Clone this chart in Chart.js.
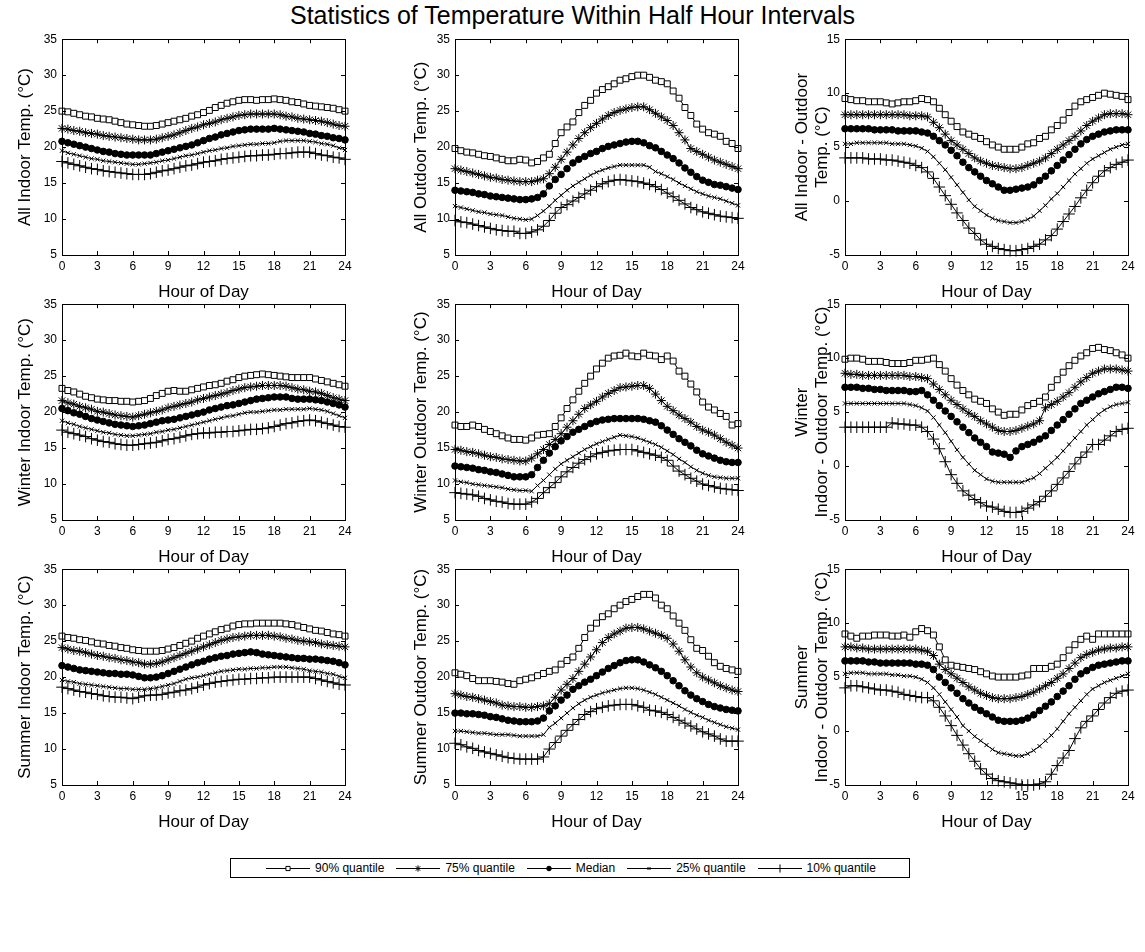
<!DOCTYPE html>
<html>
<head>
<meta charset="utf-8">
<script src="https://cdn.jsdelivr.net/npm/chart.js@4.4.1/dist/chart.umd.min.js"></script>
<style>
  html, body { margin: 0; padding: 0; background: #fff; }
  #fig { position: relative; width: 1145px; height: 952px; overflow: hidden; font-family: 'Liberation Sans', Arial, sans-serif; color: #000; }
  #title { position: absolute; left: 0; top: 1px; width: 1145px; text-align: center; font-size: 25px; }
  .panel { position: absolute; }
  #legend { position: absolute; left: 230px; top: 858px; width: 680px; height: 20px; border: 1px solid #000; box-sizing: border-box;
            display: flex; align-items: center; justify-content: center; font-size: 12px; }
  #legend .item { display: flex; align-items: center; margin: 0 5px; }
  #legend canvas { margin-right: 3px; }
</style>
</head>
<body>
<div id="fig">
  <div id="title">Statistics of Temperature Within Half Hour Intervals</div>
  <div id="legend"></div>
</div>

<script>
// ================= DATOS =================
const hours = [0,0.5,1,1.5,2,2.5,3,3.5,4,4.5,5,5.5,6,6.5,7,7.5,8,8.5,9,9.5,10,10.5,11,11.5,
               12,12.5,13,13.5,14,14.5,15,15.5,16,16.5,17,17.5,18,18.5,19,19.5,20,20.5,21,21.5,22,22.5,23,23.5,24];
const xTicks = [0, 3, 6, 9, 12, 15, 18, 21, 24];
const tempTicks = [5, 10, 15, 20, 25, 30, 35];
const diffTicks = [-5, 0, 5, 10, 15];
const seriesNames = ['90% quantile', '75% quantile', 'Median', '25% quantile', '10% quantile'];

// All - indoor
const allIndoor90  = [25.0,24.9,24.7,24.5,24.3,24.2, 24.0,23.9,23.8,23.6,23.4,23.2, 23.1,23.0,22.9,22.9,23.0,23.2, 23.4,23.6,23.8,24.0,24.3,24.5, 24.8,25.1,25.5,25.8,26.1,26.3, 26.5,26.6,26.6,26.5,26.6,26.6, 26.7,26.6,26.5,26.3,26.2,26.0, 25.8,25.7,25.6,25.5,25.4,25.2, 25.0];
const allIndoor75  = [22.6,22.5,22.3,22.2,22.0,21.9, 21.8,21.6,21.5,21.4,21.3,21.2, 21.1,21.0,21.0,21.0,21.1,21.3, 21.5,21.7,22.0,22.3,22.6,22.8, 23.1,23.3,23.5,23.8,24.0,24.2, 24.4,24.5,24.6,24.6,24.6,24.6, 24.6,24.5,24.3,24.2,24.0,23.9, 23.8,23.7,23.6,23.4,23.2,23.0, 22.9];
const allIndoorMed = [20.8,20.6,20.4,20.2,20.0,19.8, 19.6,19.4,19.3,19.1,19.0,18.9, 18.9,18.9,18.9,18.9,19.1,19.3, 19.5,19.7,19.9,20.1,20.3,20.6, 20.9,21.2,21.4,21.7,21.9,22.1, 22.3,22.4,22.5,22.5,22.5,22.5, 22.6,22.5,22.4,22.3,22.2,22.1, 21.9,21.8,21.6,21.5,21.3,21.2, 21.0];
const allIndoor25  = [19.5,19.2,19.0,18.8,18.6,18.4, 18.3,18.1,18.0,17.9,17.8,17.7, 17.6,17.6,17.7,17.8,17.9,18.1, 18.2,18.4,18.6,18.8,18.9,19.1, 19.3,19.5,19.6,19.8,19.9,20.1, 20.2,20.3,20.4,20.4,20.5,20.5, 20.6,20.8,20.9,20.9,20.9,20.9, 20.8,20.7,20.5,20.4,20.2,19.9, 19.6];
const allIndoor10  = [18.0,17.8,17.6,17.4,17.2,17.0, 16.9,16.7,16.6,16.5,16.4,16.3, 16.2,16.2,16.2,16.3,16.5,16.7, 16.8,17.0,17.2,17.4,17.5,17.7, 17.9,18.0,18.1,18.3,18.4,18.5, 18.6,18.7,18.8,18.8,18.9,18.9, 19.0,19.1,19.1,19.2,19.3,19.3, 19.3,19.1,18.9,18.8,18.6,18.5, 18.3];

// All - outdoor
const allOutdoor90  = [19.8,19.5,19.3,19.2,19.0,18.8, 18.7,18.5,18.3,18.1,18.1,18.3, 18.2,17.8,18.0,18.5,19.0,20.5, 22.0,22.8,23.5,24.8,25.8,26.5, 27.5,28.0,28.4,28.8,29.3,29.5, 29.8,30.0,30.0,29.7,29.3,29.1, 28.8,27.8,26.8,25.5,24.4,23.2, 22.5,22.0,21.8,21.5,20.8,20.5, 19.8];
const allOutdoor75  = [17.0,16.8,16.6,16.4,16.2,16.0, 15.8,15.7,15.5,15.4,15.3,15.2, 15.2,15.2,15.4,15.6,16.3,17.2, 18.3,19.3,20.3,21.2,22.0,22.7, 23.3,23.9,24.4,24.8,25.1,25.3, 25.5,25.6,25.6,25.2,24.7,24.2, 23.7,23.0,22.0,21.0,19.8,19.4, 19.0,18.6,18.2,17.9,17.6,17.3, 17.0];
const allOutdoorMed = [14.0,13.9,13.8,13.7,13.5,13.4, 13.2,13.1,13.0,12.9,12.8,12.7, 12.7,12.8,13.0,13.5,14.6,15.5, 16.2,17.0,17.8,18.3,18.7,19.1, 19.4,19.8,20.1,20.3,20.5,20.7, 20.8,20.8,20.6,20.2,19.9,19.4, 18.9,18.4,17.8,17.1,16.5,15.9, 15.4,15.1,14.8,14.7,14.5,14.3, 14.1];
const allOutdoor25  = [11.8,11.6,11.4,11.2,11.0,10.9, 10.7,10.6,10.5,10.3,10.1,10.0, 9.9,10.0,10.5,11.1,11.8,12.6, 13.3,14.0,14.6,15.1,15.6,16.1, 16.5,16.8,17.1,17.3,17.5,17.5, 17.5,17.5,17.5,17.2,16.6,16.3, 15.9,15.5,15.0,14.6,14.2,13.8, 13.5,13.2,13.0,12.8,12.5,12.2, 11.9];
const allOutdoor10  = [9.8,9.6,9.5,9.3,9.1,8.9, 8.7,8.5,8.4,8.3,8.3,8.0, 8.0,8.2,8.5,9.0,9.8,10.8, 11.6,12.0,12.5,13.0,13.5,14.0, 14.5,14.9,15.2,15.4,15.5,15.4, 15.3,15.2,15.0,14.8,14.5,14.1, 13.6,13.1,12.6,12.1,11.6,11.3, 11.0,10.8,10.6,10.4,10.3,10.2, 10.1];

// All - indoor minus outdoor
const allDiff90  = [9.5,9.4,9.3,9.3,9.2,9.2, 9.2,9.1,9.0,9.1,9.2,9.2, 9.3,9.5,9.4,9.2,8.6,8.0, 7.4,6.9,6.4,6.2,6.0,5.8, 5.5,5.2,5.0,4.8,4.8,4.8, 5.0,5.3,5.4,5.8,6.0,6.6, 7.0,7.5,8.2,8.8,9.2,9.4, 9.6,9.8,10.0,9.9,9.8,9.7, 9.4];
const allDiff75  = [8.0,8.0,8.0,8.0,8.0,8.0, 8.0,8.0,8.0,8.0,8.0,7.9, 7.9,7.9,7.8,7.3,6.8,6.2, 5.6,5.2,4.8,4.4,4.0,3.7, 3.5,3.3,3.2,3.1,3.0,3.0, 3.1,3.3,3.5,3.7,4.0,4.4, 4.8,5.2,5.6,6.0,6.5,7.0, 7.4,7.7,8.0,8.1,8.1,8.1, 8.0];
const allDiffMed = [6.7,6.7,6.7,6.7,6.7,6.6, 6.6,6.6,6.6,6.5,6.5,6.5, 6.5,6.4,6.3,6.0,5.6,5.2, 4.7,4.2,3.6,3.1,2.7,2.3, 1.9,1.6,1.3,1.0,1.0,1.1, 1.2,1.3,1.5,1.9,2.3,2.8, 3.3,3.8,4.3,4.8,5.3,5.7, 6.0,6.2,6.4,6.5,6.6,6.6, 6.6];
const allDiff25  = [5.3,5.3,5.4,5.4,5.4,5.4, 5.4,5.4,5.3,5.3,5.3,5.2, 5.1,4.9,4.6,4.1,3.5,2.9, 2.2,1.5,0.8,0.1,-0.5,-0.9, -1.3,-1.6,-1.8,-1.9,-2.0,-2.0, -1.9,-1.7,-1.4,-0.9,-0.4,0.2, 0.7,1.3,1.9,2.5,3.0,3.5, 3.9,4.2,4.5,4.8,5.0,5.2, 5.3];
const allDiff10  = [4.0,4.0,4.0,4.0,3.9,3.9, 3.9,3.8,3.8,3.7,3.6,3.5, 3.3,3.1,2.7,2.1,1.3,0.5, -0.3,-1.1,-1.8,-2.5,-3.0,-3.6, -4.0,-4.2,-4.4,-4.5,-4.6,-4.6, -4.5,-4.4,-4.2,-4.0,-3.6,-3.2, -2.6,-1.9,-1.2,-0.5,0.3,1.0, 1.7,2.3,2.8,3.1,3.4,3.6, 3.8];

// Winter - indoor
const winIndoor90  = [23.3,23.0,22.8,22.5,22.2,22.0, 21.8,21.7,21.6,21.6,21.5,21.5, 21.4,21.5,21.6,21.9,22.3,22.6, 22.9,23.0,22.9,22.9,23.1,23.3, 23.5,23.7,23.8,24.0,24.3,24.5, 24.8,25.0,25.1,25.2,25.3,25.2, 25.1,25.0,24.9,24.8,24.8,24.8, 24.8,24.6,24.4,24.2,24.0,23.8, 23.6];
const winIndoor75  = [21.6,21.3,21.1,20.8,20.6,20.4, 20.1,20.0,19.8,19.6,19.5,19.4, 19.3,19.5,19.7,19.9,20.1,20.3, 20.6,20.8,21.0,21.2,21.4,21.7, 21.9,22.1,22.3,22.5,22.7,23.0, 23.2,23.4,23.5,23.6,23.7,23.7, 23.7,23.7,23.6,23.4,23.2,23.1, 22.9,22.8,22.6,22.3,22.0,21.8, 21.6];
const winIndoorMed = [20.5,20.2,19.9,19.7,19.4,19.1, 18.9,18.7,18.5,18.3,18.2,18.1, 18.0,18.1,18.2,18.4,18.6,18.8, 18.9,19.0,19.2,19.4,19.6,19.8, 20.0,20.3,20.5,20.7,20.9,21.0, 21.2,21.4,21.6,21.8,21.9,22.0, 22.1,22.1,22.1,21.9,21.8,21.8, 21.8,21.7,21.6,21.4,21.2,21.0, 20.7];
const winIndoor25  = [18.8,18.5,18.3,18.0,17.8,17.6, 17.4,17.2,17.1,16.9,16.8,16.7, 16.7,16.8,16.9,17.0,17.2,17.3, 17.5,17.6,17.8,18.0,18.2,18.4, 18.6,18.8,19.0,19.2,19.4,19.5, 19.7,19.9,20.0,20.0,20.1,20.2, 20.3,20.3,20.4,20.4,20.4,20.4, 20.5,20.4,20.3,20.1,19.8,19.5, 19.2];
const winIndoor10  = [17.5,17.2,17.0,16.8,16.6,16.3, 16.1,15.9,15.8,15.6,15.5,15.4, 15.4,15.5,15.6,15.7,15.8,16.0, 16.2,16.3,16.5,16.7,16.9,17.0, 17.1,17.1,17.2,17.2,17.3,17.3, 17.4,17.5,17.6,17.6,17.7,17.8, 18.0,18.2,18.4,18.5,18.7,18.8, 18.9,18.8,18.6,18.4,18.2,18.0, 17.9];

// Winter - outdoor
const winOutdoor90  = [18.2,18.0,18.0,18.2,18.0,17.6, 17.3,17.0,16.7,16.4,16.2,16.2, 16.1,16.4,16.8,16.9,17.0,18.0, 19.2,20.5,21.7,22.9,24.0,25.0, 26.0,26.8,27.5,27.8,27.9,28.2, 27.8,27.7,28.2,27.9,27.8,27.3, 27.8,27.1,25.7,25.0,23.9,22.8, 21.4,20.7,20.3,19.8,19.4,18.2, 18.4];
const winOutdoor75  = [14.8,14.7,14.5,14.4,14.2,14.0, 13.8,13.7,13.5,13.4,13.3,13.2, 13.2,13.6,14.2,14.8,15.5,16.2, 17.0,17.9,18.8,19.7,20.5,21.0, 21.5,22.1,22.6,23.0,23.4,23.5, 23.6,23.7,23.7,23.3,22.5,21.6, 20.8,20.2,19.6,19.1,18.6,18.0, 17.5,17.2,16.8,16.3,15.8,15.4, 15.0];
const winOutdoorMed = [12.5,12.4,12.3,12.2,12.0,11.9, 11.7,11.6,11.4,11.2,11.0,11.0, 11.0,11.3,12.3,13.3,14.3,15.2, 16.0,16.6,17.2,17.6,18.0,18.4, 18.7,18.9,19.0,19.1,19.1,19.1, 19.1,19.1,19.0,18.8,18.6,18.1, 17.5,16.9,16.3,15.8,15.3,14.7, 14.2,13.9,13.6,13.3,13.1,13.0, 13.0];
const winOutdoor25  = [10.5,10.3,10.2,10.0,9.9,9.8, 9.7,9.6,9.5,9.3,9.2,9.1, 9.1,9.0,9.8,10.5,11.3,12.1, 12.8,13.3,13.8,14.3,14.8,15.2, 15.6,15.9,16.2,16.5,16.8,16.7, 16.6,16.4,16.1,15.8,15.5,15.1, 14.6,14.1,13.5,13.0,12.4,11.9, 11.5,11.2,11.0,10.9,10.8,10.8, 10.8];
const winOutdoor10  = [8.8,8.7,8.6,8.5,8.3,8.0, 7.8,7.6,7.5,7.3,7.2,7.2, 7.2,7.5,8.0,8.8,9.5,10.2, 11.0,11.7,12.3,12.9,13.4,13.8, 14.2,14.4,14.6,14.7,14.8,14.8, 14.8,14.6,14.4,14.2,14.0,13.7, 13.3,12.5,11.8,11.3,10.8,10.4, 10.0,9.8,9.6,9.4,9.3,9.2, 9.1];

// Winter - indoor minus outdoor
const winDiff90  = [9.9,10.0,10.0,9.9,9.7,9.7, 9.7,9.6,9.5,9.5,9.5,9.6, 9.8,9.8,9.9,10.0,9.4,8.8, 8.1,7.5,7.0,6.6,6.2,6.0, 5.8,5.3,5.0,4.7,4.8,4.8, 5.2,5.6,5.8,6.0,6.4,7.3, 8.0,8.7,9.3,9.8,10.2,10.5, 10.9,11.0,10.8,10.7,10.5,10.3, 10.0];
const winDiff75  = [8.6,8.5,8.5,8.4,8.4,8.4, 8.4,8.4,8.4,8.4,8.4,8.3, 8.3,8.2,8.1,7.6,7.1,6.6, 6.1,5.7,5.3,4.9,4.6,4.2, 3.9,3.6,3.3,3.2,3.2,3.3, 3.5,3.7,3.9,4.2,5.4,5.7, 6.0,6.4,6.8,7.3,7.8,8.2, 8.6,8.8,9.0,9.0,9.0,8.9, 8.8];
const winDiffMed = [7.3,7.3,7.3,7.2,7.2,7.1, 7.1,7.0,7.0,7.0,7.0,6.9, 6.9,7.0,6.6,6.1,5.6,5.1, 4.6,4.1,3.6,3.1,2.6,2.2, 1.8,1.3,1.2,1.1,0.8,1.4, 1.8,2.0,2.2,2.5,2.8,3.3, 3.8,4.3,4.8,5.3,5.8,6.1, 6.4,6.7,6.9,7.1,7.3,7.3, 7.2];
const winDiff25  = [5.8,5.8,5.8,5.8,5.8,5.8, 5.8,5.8,5.8,5.8,5.8,5.7, 5.6,5.4,5.1,4.5,3.8,3.1, 2.3,1.5,0.8,0.2,-0.4,-0.8, -1.2,-1.4,-1.5,-1.5,-1.5,-1.5, -1.5,-1.3,-1.1,-0.7,-0.2,0.3, 0.8,1.4,2.0,2.6,3.2,3.8, 4.3,4.8,5.2,5.5,5.7,5.8, 5.9];
const winDiff10  = [3.6,3.6,3.6,3.6,3.6,3.6, 3.6,3.6,4.0,3.9,3.9,3.8, 3.8,3.6,3.2,2.5,1.6,0.4, -0.8,-1.6,-2.3,-2.7,-3.1,-3.4, -3.7,-3.8,-4.0,-4.2,-4.3,-4.3, -4.2,-3.9,-3.6,-3.3,-2.8,-2.3, -1.7,-1.1,-0.5,0.2,0.8,1.3, 2.0,2.0,2.4,2.8,3.2,3.4, 3.5];

// Summer - indoor
const sumIndoor90  = [25.7,25.5,25.4,25.2,25.1,24.9, 24.7,24.6,24.4,24.3,24.1,24.0, 23.8,23.7,23.6,23.6,23.6,23.7, 23.9,24.1,24.4,24.7,25.0,25.4, 25.7,26.0,26.3,26.6,26.8,27.1, 27.3,27.4,27.4,27.5,27.5,27.5, 27.5,27.5,27.4,27.3,27.1,26.9, 26.7,26.5,26.4,26.2,26.0,25.9, 25.7];
const sumIndoor75  = [24.1,23.9,23.7,23.6,23.4,23.2, 23.0,22.9,22.7,22.6,22.4,22.3, 22.1,22.0,21.8,21.8,21.9,22.1, 22.4,22.7,23.0,23.3,23.6,23.9, 24.2,24.5,24.8,25.1,25.3,25.5, 25.6,25.7,25.8,25.8,25.8,25.8, 25.7,25.6,25.4,25.3,25.1,25.0, 24.9,24.8,24.6,24.5,24.4,24.3, 24.2];
const sumIndoorMed = [21.6,21.4,21.2,21.0,20.9,20.8, 20.7,20.6,20.5,20.5,20.4,20.4, 20.3,20.1,19.9,19.9,20.0,20.2, 20.5,20.8,21.1,21.4,21.7,22.0, 22.2,22.5,22.7,22.9,23.0,23.2, 23.3,23.4,23.5,23.4,23.2,23.1, 23.0,22.9,22.8,22.7,22.6,22.6, 22.5,22.5,22.4,22.3,22.2,22.0, 21.7];
const sumIndoor25  = [19.6,19.4,19.3,19.1,19.0,18.9, 18.8,18.7,18.6,18.5,18.4,18.4, 18.3,18.3,18.3,18.4,18.5,18.7, 18.9,19.1,19.4,19.7,19.9,20.0, 20.2,20.4,20.6,20.8,20.9,21.0, 21.1,21.1,21.2,21.2,21.3,21.3, 21.4,21.4,21.4,21.3,21.2,21.1, 20.9,20.8,20.7,20.5,20.4,20.1, 19.9];
const sumIndoor10  = [18.6,18.4,18.2,18.0,17.9,17.7, 17.6,17.4,17.3,17.2,17.2,17.1, 17.0,17.2,17.4,17.5,17.5,17.6, 17.8,17.9,18.1,18.2,18.4,18.6, 18.9,19.1,19.3,19.4,19.5,19.6, 19.7,19.7,19.8,19.8,19.9,19.9, 20.0,20.0,20.0,20.0,20.0,20.0, 20.0,19.8,19.6,19.4,19.2,19.0, 18.9];

// Summer - outdoor
const sumOutdoor90  = [20.6,20.4,20.2,19.8,19.5,19.5, 19.5,19.4,19.3,19.1,19.0,19.5, 19.7,19.9,20.2,20.5,20.8,21.0, 21.8,22.3,22.8,24.0,25.5,26.8, 27.5,28.4,28.8,29.5,30.0,30.5, 30.8,31.2,31.5,31.5,31.0,30.0, 29.5,28.5,27.5,26.5,25.2,24.0, 23.7,22.9,22.0,21.5,21.2,21.0, 20.8];
const sumOutdoor75  = [17.7,17.5,17.3,17.2,17.0,16.8, 16.6,16.4,16.1,16.0,15.9,15.9, 15.8,15.8,15.9,16.0,16.3,17.2, 18.2,19.0,19.8,20.8,21.8,22.8, 23.8,24.8,25.5,26.0,26.4,26.8, 26.9,26.9,26.7,26.4,26.1,25.8, 25.4,24.6,23.6,22.4,21.4,20.6, 20.0,19.6,19.2,18.8,18.5,18.2, 18.0];
const sumOutdoorMed = [15.0,15.0,14.9,14.9,14.8,14.7, 14.5,14.4,14.2,14.0,13.9,13.8, 13.8,13.8,13.9,14.3,15.3,16.0, 16.8,17.5,18.3,18.8,19.3,19.7, 20.2,20.7,21.2,21.6,22.0,22.3, 22.4,22.4,22.1,21.7,21.3,20.8, 20.2,19.5,18.8,18.1,17.5,17.0, 16.6,16.2,15.9,15.7,15.5,15.4, 15.3];
const sumOutdoor25  = [12.5,12.5,12.4,12.3,12.2,12.2, 12.1,12.0,12.0,12.0,11.9,11.8, 11.8,11.8,11.8,12.0,13.0,13.6, 14.3,15.0,15.7,16.3,16.8,17.2, 17.5,17.8,18.0,18.2,18.4,18.5, 18.5,18.4,18.2,17.9,17.6,17.2, 16.8,16.4,16.0,15.5,15.1,14.7, 14.4,14.0,13.7,13.4,13.1,12.9, 12.7];
const sumOutdoor10  = [10.8,10.6,10.3,10.1,9.8,9.6, 9.4,9.2,9.0,8.8,8.7,8.6, 8.6,8.6,8.6,8.9,10.0,10.9, 11.8,12.6,13.4,14.1,14.8,15.2, 15.6,15.8,16.0,16.1,16.2,16.2, 16.2,16.0,15.8,15.4,15.3,15.1, 14.8,14.4,14.0,13.6,13.2,12.8, 12.4,12.1,11.8,11.4,11.1,11.1, 11.1];

// Summer - indoor minus outdoor
const sumDiff90  = [9.0,8.8,8.6,8.8,8.8,8.9, 8.9,8.9,8.8,8.8,8.9,8.7, 9.2,9.5,9.3,8.9,7.8,6.6, 6.1,6.0,5.9,5.8,5.7,5.5, 5.3,5.1,5.0,5.0,5.0,5.0, 5.1,5.2,5.8,5.8,5.8,6.0, 6.2,6.8,7.5,8.0,8.5,8.8, 8.5,9.0,9.0,9.0,9.0,9.0, 9.0];
const sumDiff75  = [7.8,7.8,7.7,7.7,7.6,7.6, 7.6,7.6,7.6,7.6,7.6,7.6, 7.6,7.5,7.4,7.0,6.2,5.7, 5.3,4.9,4.5,4.1,3.8,3.5, 3.3,3.1,3.0,3.0,3.0,3.1, 3.2,3.4,3.6,3.9,4.2,4.5, 4.9,5.3,5.8,6.3,6.8,7.1, 7.3,7.5,7.6,7.7,7.7,7.8, 7.8];
const sumDiffMed = [6.5,6.5,6.5,6.5,6.4,6.4, 6.3,6.3,6.3,6.3,6.3,6.3, 6.2,6.2,6.1,5.7,5.0,4.5, 4.0,3.5,3.0,2.6,2.2,1.9, 1.6,1.3,1.0,0.9,0.9,0.9, 1.0,1.2,1.5,1.9,2.3,2.7, 3.2,3.7,4.2,4.8,5.3,5.6, 5.9,6.1,6.2,6.3,6.4,6.5, 6.5];
const sumDiff25  = [5.3,5.4,5.4,5.4,5.3,5.3, 5.3,5.3,5.2,5.2,5.1,5.1, 5.0,4.8,4.5,4.0,3.4,2.7, 2.0,1.3,0.5,0.0,-0.5,-0.9, -1.3,-1.7,-2.0,-2.1,-2.2,-2.3, -2.3,-2.1,-1.8,-1.4,-0.9,-0.4, 0.2,0.9,1.6,2.2,2.8,3.4, 3.9,4.2,4.5,4.7,4.9,5.1, 5.3];
const sumDiff10  = [4.0,4.2,4.2,4.1,4.0,3.9, 3.8,3.8,3.7,3.6,3.4,3.3, 3.2,3.1,3.1,2.8,2.2,1.4, 0.5,-0.4,-1.3,-2.1,-2.8,-3.5, -4.0,-4.4,-4.6,-4.7,-4.8,-4.9, -5.0,-5.0,-5.0,-4.9,-4.7,-4.0, -3.2,-2.5,-1.8,-0.7,0.3,0.9, 1.4,2.0,2.6,3.1,3.5,3.7, 3.8];

// ================= PANELES =================
const panels = [
  { row: 0, col: 0, yTitle: 'All Indoor Temp. (\u00B0C)',     ticks: tempTicks, series: [allIndoor90, allIndoor75, allIndoorMed, allIndoor25, allIndoor10] },
  { row: 0, col: 1, yTitle: 'All Outdoor Temp. (\u00B0C)',    ticks: tempTicks, series: [allOutdoor90, allOutdoor75, allOutdoorMed, allOutdoor25, allOutdoor10] },
  { row: 0, col: 2, yTitle: ['All Indoor - Outdoor', 'Temp. (\u00B0C)'], ticks: diffTicks, series: [allDiff90, allDiff75, allDiffMed, allDiff25, allDiff10] },
  { row: 1, col: 0, yTitle: 'Winter Indoor Temp. (\u00B0C)',  ticks: tempTicks, series: [winIndoor90, winIndoor75, winIndoorMed, winIndoor25, winIndoor10] },
  { row: 1, col: 1, yTitle: 'Winter Outdoor Temp. (\u00B0C)', ticks: tempTicks, series: [winOutdoor90, winOutdoor75, winOutdoorMed, winOutdoor25, winOutdoor10] },
  { row: 1, col: 2, yTitle: ['Winter', 'Indoor - Outdoor Temp. (\u00B0C)'], ticks: diffTicks, series: [winDiff90, winDiff75, winDiffMed, winDiff25, winDiff10] },
  { row: 2, col: 0, yTitle: 'Summer Indoor Temp. (\u00B0C)',  ticks: tempTicks, series: [sumIndoor90, sumIndoor75, sumIndoorMed, sumIndoor25, sumIndoor10] },
  { row: 2, col: 1, yTitle: 'Summer Outdoor Temp. (\u00B0C)', ticks: tempTicks, series: [sumOutdoor90, sumOutdoor75, sumOutdoorMed, sumOutdoor25, sumOutdoor10] },
  { row: 2, col: 2, yTitle: ['Summer', 'Indoor - Outdoor Temp. (\u00B0C)'], ticks: diffTicks, series: [sumDiff90, sumDiff75, sumDiffMed, sumDiff25, sumDiff10] }
];

// estilo de marcadores (90, 75, mediana, 25, 10)
const markers = [
  { style: 'rect',     radius: 4.2, fill: '#ffffff' },
  { style: 'star',     radius: 4.5, fill: '#000000' },
  { style: 'circle',   radius: 3.3, fill: '#000000' },
  { style: 'crossRot', radius: 3.0, fill: '#000000' },
  { style: 'cross',    radius: 5.8, fill: '#000000' }
];

// geometría
const colLeft = [62, 455, 845];
const rowTop  = [37, 302, 567];
const plotW = 283, plotH = 218;
const yAxisW = [62, 90, 95];
const yTitlePad = [15, 46, 42];
const padTop = 10, padRight = 14, xAxisH = 52;

const FONT = "'Liberation Sans', Arial, Helvetica, sans-serif";
Chart.defaults.font.family = FONT;
Chart.defaults.color = '#000';

// caja + ticks hacia adentro (estilo MATLAB)
const boxTicks = {
  id: 'boxTicks',
  afterDraw(chart) {
    const { ctx, chartArea: a, scales: { x, y } } = chart;
    ctx.save();
    ctx.strokeStyle = '#000';
    ctx.lineWidth = 1;
    ctx.strokeRect(Math.round(a.left) + 0.5, Math.round(a.top) + 0.5,
                   Math.round(a.right - a.left), Math.round(a.bottom - a.top));
    ctx.beginPath();
    x.ticks.forEach(t => {
      const px = Math.round(x.getPixelForValue(t.value)) + 0.5;
      ctx.moveTo(px, a.bottom); ctx.lineTo(px, a.bottom - 4);
      ctx.moveTo(px, a.top);    ctx.lineTo(px, a.top + 4);
    });
    y.ticks.forEach(t => {
      const py = Math.round(y.getPixelForValue(t.value)) + 0.5;
      ctx.moveTo(a.left, py);  ctx.lineTo(a.left + 4, py);
      ctx.moveTo(a.right, py); ctx.lineTo(a.right - 4, py);
    });
    ctx.stroke();
    ctx.restore();
  }
};

function crearPanel(p) {
  const fig = document.getElementById('fig');
  const div = document.createElement('div');
  div.className = 'panel';
  const left = colLeft[p.col] - yAxisW[p.col];
  const top = rowTop[p.row] - padTop;
  div.style.left = left + 'px';
  div.style.top = top + 'px';
  div.style.width = (yAxisW[p.col] + plotW + padRight) + 'px';
  div.style.height = (padTop + plotH + xAxisH) + 'px';
  const canvas = document.createElement('canvas');
  div.appendChild(canvas);
  fig.appendChild(div);

  const datasets = p.series.map((vals, i) => ({
    label: seriesNames[i],
    data: vals.map((v, k) => ({ x: hours[k], y: v })),
    borderColor: '#000',
    borderWidth: 1,
    backgroundColor: markers[i].fill,
    pointStyle: markers[i].style,
    pointRadius: markers[i].radius,
    pointBorderWidth: 1,
    pointBorderColor: '#000',
    pointBackgroundColor: markers[i].fill,
    tension: 0,
    clip: false
  }));

  new Chart(canvas, {
    type: 'line',
    data: { datasets },
    options: {
      responsive: true,
      maintainAspectRatio: false,
      animation: false,
      events: [],
      layout: { padding: { top: padTop, right: padRight, left: 0, bottom: 0 } },
      plugins: { legend: { display: false }, tooltip: { enabled: false } },
      scales: {
        x: {
          type: 'linear', min: 0, max: 24,
          afterBuildTicks: s => { s.ticks = xTicks.map(v => ({ value: v })); },
          afterFit: s => { s.height = xAxisH; },
          grid: { display: false, drawTicks: false },
          border: { display: false },
          ticks: { font: { size: 12 }, padding: 4, maxRotation: 0 },
          title: { display: true, text: 'Hour of Day', font: { size: 17 }, padding: { top: 0, bottom: 4 } }
        },
        y: {
          type: 'linear', min: p.ticks[0], max: p.ticks[p.ticks.length - 1],
          afterBuildTicks: s => { s.ticks = p.ticks.map(v => ({ value: v })); },
          afterFit: s => { s.width = yAxisW[p.col]; },
          grid: { display: false, drawTicks: false },
          border: { display: false },
          ticks: { font: { size: 12 }, padding: 5 },
          title: { display: true, text: p.yTitle, font: { size: 17 }, padding: { top: yTitlePad[p.col], bottom: 0 } }
        }
      }
    },
    plugins: [boxTicks]
  });
}

// ================= LEYENDA =================
function dibujarMarcador(ctx, m, x, y) {
  if (Chart.helpers && Chart.helpers.drawPoint) {
    ctx.strokeStyle = '#000';
    ctx.fillStyle = m.fill;
    ctx.lineWidth = 1;
    Chart.helpers.drawPoint(ctx, { pointStyle: m.style, radius: m.radius * 0.7, borderWidth: 1 }, x, y);
  }
}

function crearLeyenda() {
  const leg = document.getElementById('legend');
  seriesNames.forEach((name, i) => {
    const item = document.createElement('div');
    item.className = 'item';
    const c = document.createElement('canvas');
    c.width = 48; c.height = 14;
    const ctx = c.getContext('2d');
    ctx.strokeStyle = '#000';
    ctx.lineWidth = 1;
    ctx.beginPath(); ctx.moveTo(2, 7.5); ctx.lineTo(46, 7.5); ctx.stroke();
    dibujarMarcador(ctx, markers[i], 24, 7.5);
    const span = document.createElement('span');
    span.textContent = name;
    item.appendChild(c);
    item.appendChild(span);
    leg.appendChild(item);
  });
}

// ================= INICIO =================
document.addEventListener('DOMContentLoaded', () => {
  panels.forEach(crearPanel);
  crearLeyenda();
});
</script>
</body>
</html>
